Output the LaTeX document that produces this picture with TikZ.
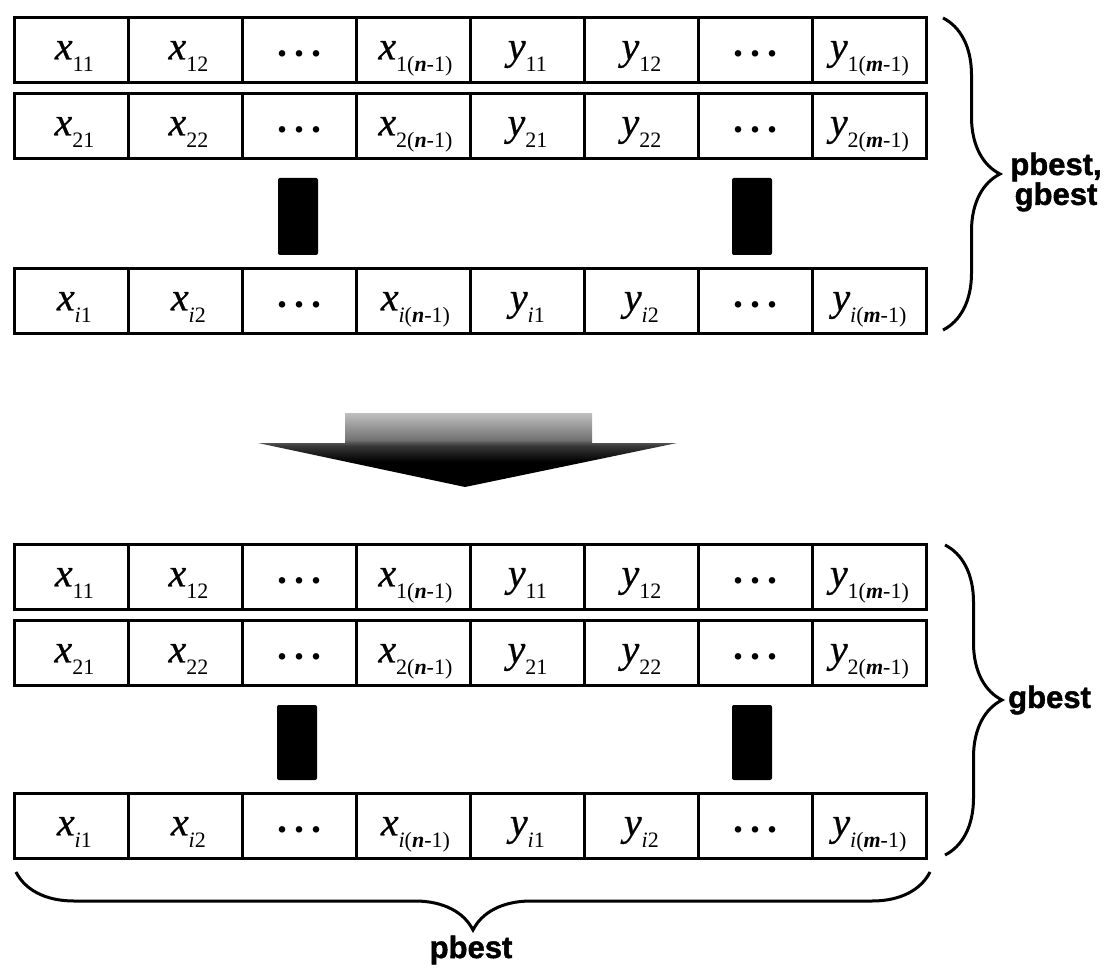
\documentclass[tikz,border=0pt]{standalone}
\usepackage{fontspec}
\setmainfont{Liberation Serif}
\newfontfamily\labfont[BoldFont={Liberation Sans Bold}, BoldFeatures={FakeBold=1.5}]{Liberation Sans}
\newfontfamily\cellfont[ItalicFeatures={FakeBold=0.6}]{Liberation Serif}
\usetikzlibrary{decorations.pathreplacing}

\newcommand{\cv}[2]{{\cellfont\fontsize{40}{40}\selectfont\itshape #1}\raisebox{-12pt}{\fontsize{22}{22}\selectfont #2}}
\newcommand{\bn}[1]{\textbf{\textit{#1}}}
\newcommand{\dts}{\raisebox{3pt}{\fontsize{40}{40}\selectfont\bfseries .\hspace{7pt}.\hspace{7pt}.}}

\pgfdeclareverticalshading{arrowshade}{100bp}{color(0bp)=(black); color(42bp)=(black); color(53bp)=(black!78); color(57bp)=(black!55); color(75bp)=(black!25); color(100bp)=(black!25)}

\tikzset{
  cellbox/.style={draw, line width=2.8pt, minimum width=114pt, inner xsep=0pt, inner ysep=0pt,
    text height=42pt, text depth=23pt, anchor=north west},
  barbox/.style={fill=black, rounded corners=2pt},
  bracestyle/.style={line width=3pt, decorate},
  lab/.style={font=\labfont\bfseries\fontsize{31}{27}\selectfont, align=center, inner sep=0pt}
}

\newcommand{\cellrow}[3]{%
  \node[cellbox] (#1c1) at (13,#2)  {\hspace*{6pt}\cv{x}{#31}};
  \node[cellbox] (#1c2) at (127,#2) {\hspace*{6pt}\cv{x}{#32}};
  \node[cellbox] (#1c3) at (241,#2) {\dts};
  \node[cellbox] (#1c4) at (355,#2) {\hspace*{4pt}\cv{x}{#3(\bn{n}-1)}};
  \node[cellbox] (#1c5) at (469,#2) {\cv{y}{#31}};
  \node[cellbox] (#1c6) at (583,#2) {\cv{y}{#32}};
  \node[cellbox] (#1c7) at (697,#2) {\dts};
  \node[cellbox] (#1c8) at (811,#2) {\cv{y}{#3(\bn{m}-1)}};
}

\begin{document}
\begin{tikzpicture}[x=1pt, y=-1pt]
\useasboundingbox (0,0) rectangle (1110,973);

% top block
\cellrow{ta}{16}{1}
\cellrow{tb}{92}{2}
\cellrow{tc}{267}{\textit{i}}
\fill[barbox] (278,178) rectangle (318,255);
\fill[barbox] (732,178) rectangle (772,255);

% arrow
\shade[shading=arrowshade] (345,413) -- (592,413) -- (592,443) -- (677,443) -- (465,487) -- (258,443) -- (345,443) -- cycle;

% bottom block
\cellrow{ba}{543}{1}
\cellrow{bb}{619}{2}
\cellrow{bc}{792}{\textit{i}}
\fill[barbox] (277,705) rectangle (317,780);
\fill[barbox] (732,705) rectangle (772,780);

% braces
\coordinate (tb1) at (943,18);
\coordinate (tb2) at (943,330);
\draw[bracestyle, decoration={brace, amplitude=57pt}] (tb1) -- (tb2);
\node[lab] (tlab) at (1056,182) {pbest,\\gbest};

\coordinate (bb1) at (945,545);
\coordinate (bb2) at (945,855);
\draw[bracestyle, decoration={brace, amplitude=57pt}] (bb1) -- (bb2);
\node[lab, anchor=west] (glab) at (1008,700) {gbest};

\coordinate (pb1) at (930,872);
\coordinate (pb2) at (16,872);
\draw[bracestyle, decoration={brace, amplitude=58pt}] (pb1) -- (pb2);
\node[lab] (plab) at (471,950) {pbest};
\end{tikzpicture}
\end{document}
